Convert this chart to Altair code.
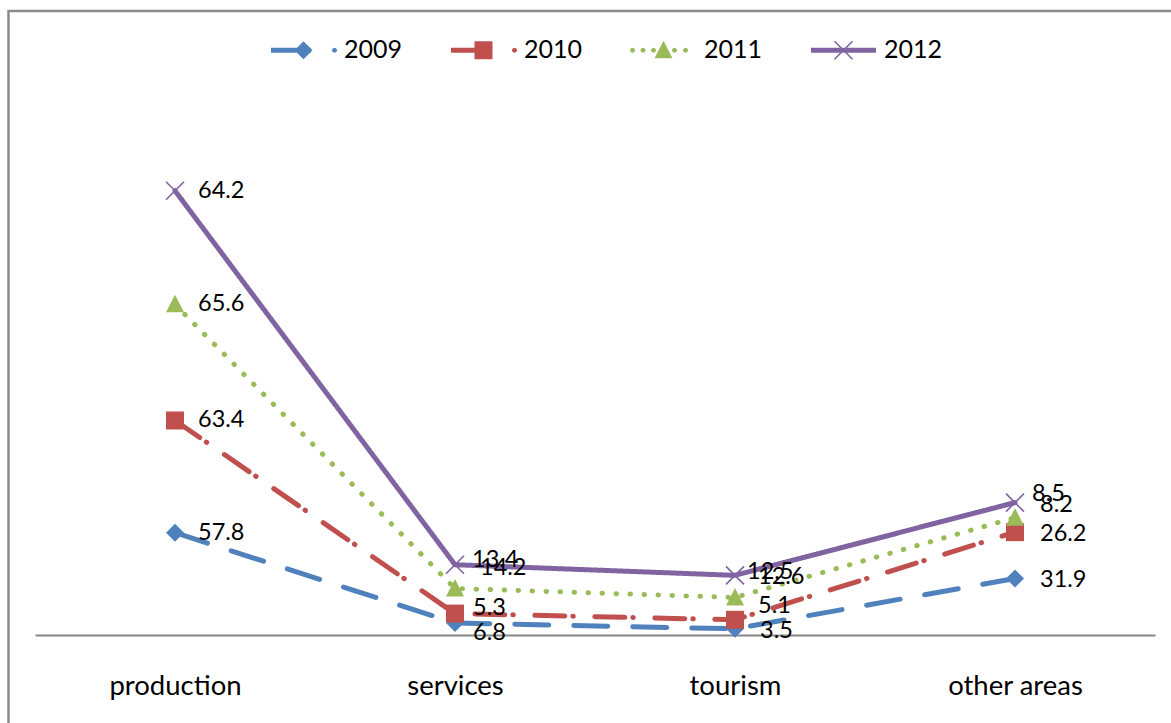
import altair as alt
import pandas as pd

# Category axis and series (stacked line chart)
categories = ["production", "services", "tourism", "other areas"]
years = ["2009", "2010", "2011", "2012"]
v2009 = [57.8, 6.8, 3.5, 31.9]
v2010 = [63.4, 5.3, 5.1, 26.2]
v2011 = [65.6, 14.2, 12.6, 8.2]
v2012 = [64.2, 13.4, 12.5, 8.5]

colors = ["#4F81BD", "#C0504D", "#9BBB59", "#8064A2"]

# Pixel nudges for the value labels, per category (rows) and year (columns)
label_dx = [[23, 23, 23, 23], [18, 18, 25, 17], [25, 23, 23, 12], [25, 25, 25, 17]]
label_dy = [[0, 0, 0, 0], [10, -6, -20, -5], [2, -14, -20, -3], [1, 2, -13, -9]]

PLOT_W, PLOT_H = 1120, 531
Y_MAX = 300

series = dict(zip(years, [v2009, v2010, v2011, v2012]))
rows = []
for ci, cat in enumerate(categories):
    for yi, yr in enumerate(years):
        rows.append({
            "category": cat, "cat_idx": ci, "year": yr,
            "value": series[yr][ci],
            "nx": label_dx[ci][yi], "ny": label_dy[ci][yi],
        })
df = pd.DataFrame(rows)

# ---- symbol paths (unit = half of sqrt(symbol size)) ----
SYM_SIZE = 4225
S = SYM_SIZE ** 0.5 / 2


def f(v):
    return f"{v / S:.4f}"


def rect_p(x1, y1, x2, y2):
    return f"M{f(x1)},{f(y1)}H{f(x2)}V{f(y2)}H{f(x1)}Z"


def diamond_p(cx, a):
    return f"M{f(cx)},{f(-a)}L{f(cx + a)},{f(0)}L{f(cx)},{f(a)}L{f(cx - a)},{f(0)}Z"


def square_p(cx, a):
    return rect_p(cx - a, -a, cx + a, a)


def triangle_p(cx, a):
    return f"M{f(cx)},{f(-a - 0.5)}L{f(cx + a)},{f(a - 1)}L{f(cx - a)},{f(a - 1)}Z"


def cross_p(cx, a, h):
    e = h / 2 ** 0.5
    arm1 = [(-a + e, -a - e), (a + e, a - e), (a - e, a + e), (-a - e, -a + e)]
    arm2 = [(-x, y) for x, y in arm1][::-1]
    out = ""
    for arm in (arm1, arm2):
        pts = [f"{f(cx + x)},{f(y)}" for x, y in arm]
        out += "M" + "L".join(pts) + "Z"
    return out


def dot_p(cx, r):
    import math
    pts = []
    for k in range(8):
        ang = -math.pi / 2 + k * math.pi / 4
        pts.append(f"{f(cx + r * math.cos(ang))},{f(r * math.sin(ang))}")
    return "M" + "L".join(pts) + "Z"


EXTENT = f"M{f(-34)},{f(-19)}M{f(34)},{f(19)}"

marker_paths = [
    diamond_p(0, 9),
    square_p(0, 9),
    triangle_p(0, 9),
    cross_p(0, 9, 0.8),
]

glyph_paths = [
    rect_p(-32.5, -2.6, 7.5, 2.6) + diamond_p(0, 9) + dot_p(31, 2.6) + EXTENT,
    rect_p(-32.5, -2.6, 0, 2.6) + square_p(0, 9) + dot_p(31, 2.6) + EXTENT,
    "".join(dot_p(c, 2.6) for c in (-31, -20.5, -10, 11, 22)) + triangle_p(0, 9) + EXTENT,
    rect_p(-32.5, -2.6, 32.5, 2.6) + cross_p(0, 9, 0.8) + EXTENT,
]

dashes = [[34, 25], [30, 8, 0.5, 21.5], [0.5, 13.5], [1, 0]]
widths = [5, 5, 5.5, 5]

# ---- shared encodings ----
x_enc = alt.X(
    "category:N",
    scale=alt.Scale(domain=categories, type="point", padding=0.5),
    axis=alt.Axis(
        title=None, labelFont="Lato", labelFontSize=27.5, labelColor="black",
        labelAngle=0, ticks=False, tickSize=0, labelPadding=37,
        domainColor="#868686", domainWidth=2, grid=False,
    ),
)
y_scale = alt.Scale(domain=[0, Y_MAX], nice=False)
y_enc = alt.Y("y1:Q", scale=y_scale, axis=None)


def color_enc(legend=None):
    return alt.Color("year:N", scale=alt.Scale(domain=years, range=colors), legend=legend)


stacked = alt.Chart(df).transform_stack(
    stack="value",
    groupby=["category"],
    as_=["y0", "y1"],
    sort=[alt.SortField("year", order="ascending")],
)

lines = stacked.mark_line(strokeCap="round", strokeJoin="round").encode(
    x=x_enc,
    y=y_enc,
    color=color_enc(),
    strokeDash=alt.StrokeDash("year:N", scale=alt.Scale(domain=years, range=dashes), legend=None),
    strokeWidth=alt.StrokeWidth("year:N", scale=alt.Scale(domain=years, range=widths), legend=None),
    order=alt.Order("cat_idx:Q"),
)

points = stacked.mark_point(filled=True, opacity=1, size=SYM_SIZE, strokeWidth=0).encode(
    x=x_enc,
    y=y_enc,
    color=color_enc(),
    shape=alt.Shape("year:N", scale=alt.Scale(domain=years, range=marker_paths), legend=None),
)

# value labels sit beside their point; the pixel nudge is converted to data units
labels = stacked.transform_calculate(
    label_y=f"datum.y1 - datum.ny * {Y_MAX} / {PLOT_H}"
).mark_text(
    align="left", baseline="middle", font="Lato", fontSize=23.5, color="black"
).encode(
    x=x_enc,
    y=alt.Y("label_y:Q", scale=y_scale, axis=None),
    text=alt.Text("value:Q", format=".1f"),
    xOffset=alt.XOffset("nx:Q", scale=None),
)

leg = alt.Legend(
    title=None, orient="none", direction="horizontal", columns=4,
    legendX=236, legendY=-86.5,
    symbolSize=SYM_SIZE, symbolStrokeWidth=0, symbolOpacity=1,
    labelFont="Lato", labelFontSize=25, labelColor="black",
    labelOffset=8, columnPadding=46,
)

legend_layer = stacked.mark_point(filled=True, opacity=0, size=SYM_SIZE).encode(
    x=x_enc,
    y=y_enc,
    color=color_enc(leg),
    shape=alt.Shape("year:N", scale=alt.Scale(domain=years, range=glyph_paths), legend=leg),
)

frame = alt.Chart(alt.Data(values=[{"k": 0}])).mark_rect(
    fillOpacity=0, stroke="#8a8a8a", strokeWidth=2.5
).encode(
    x=alt.value(-26.5), x2=alt.value(1300), y=alt.value(-93), y2=alt.value(800)
)

chart = (
    alt.layer(frame, lines, points, labels, legend_layer)
    .resolve_scale(color="independent", shape="independent")
    .properties(
        width=PLOT_W,
        height=PLOT_H,
        padding={"left": 35, "top": 104, "right": 16, "bottom": 88},
        autosize=alt.AutoSizeParams(type="none"),
        background="white",
    )
    .configure_view(stroke=None)
)

chart.save("out.html", embed_options={"renderer": "svg", "actions": False})
